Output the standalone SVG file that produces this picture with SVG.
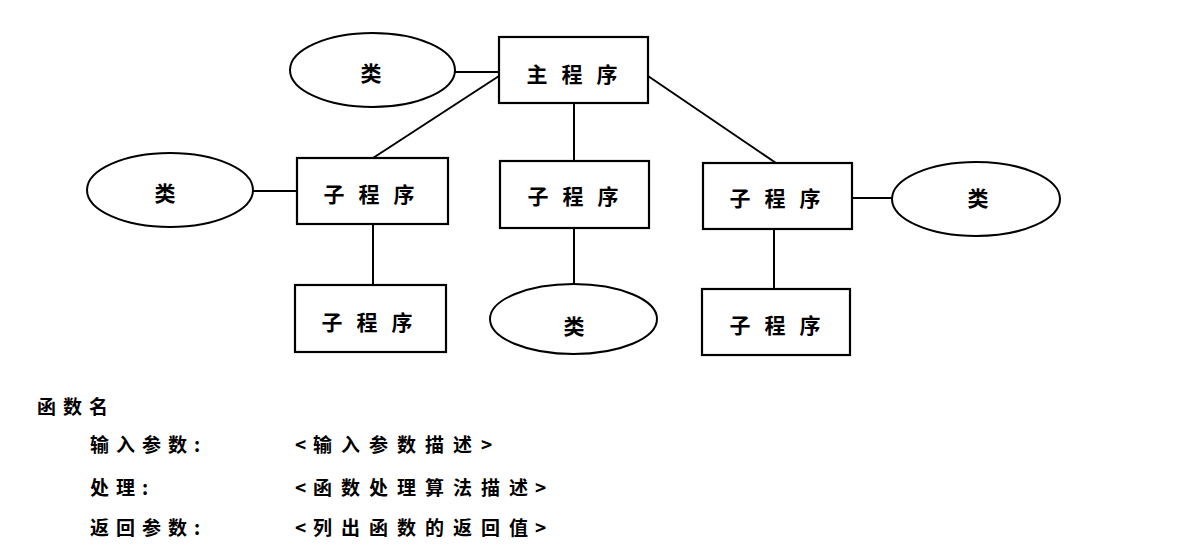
<svg xmlns="http://www.w3.org/2000/svg" width="1177" height="550" viewBox="0 0 1177 550">
<style>
.bx{fill:#fff;stroke:#000;stroke-width:2.2}
.el{fill:#fff;stroke:#000;stroke-width:2}
.ln{stroke:#000;stroke-width:2;fill:none}
.lb{font-family:"Noto Sans CJK SC","Noto Sans",sans-serif;font-weight:700;font-size:21px;fill:#000;text-anchor:middle;dominant-baseline:central}
.tx{font-family:"Noto Sans CJK SC","Noto Sans",sans-serif;font-weight:700;font-size:19px;fill:#000;dominant-baseline:central}
</style>
<rect width="1177" height="550" fill="#fff"/>
<g id="connectors">
<line class="ln" x1="455" y1="72" x2="499" y2="72"/>
<line class="ln" x1="499" y1="76" x2="373" y2="158"/>
<line class="ln" x1="574" y1="103" x2="574" y2="161"/>
<line class="ln" x1="648" y1="76" x2="776" y2="163"/>
<line class="ln" x1="253" y1="191" x2="297" y2="191"/>
<line class="ln" x1="373" y1="224" x2="373" y2="285"/>
<line class="ln" x1="574" y1="228" x2="574" y2="284"/>
<line class="ln" x1="852" y1="198" x2="892" y2="198"/>
<line class="ln" x1="774" y1="229" x2="774" y2="289"/>
</g>
<g id="main">
<rect class="bx" x="499" y="37" width="149" height="66"/>
<text class="lb" x="537 572 607" y="73">主程序</text>
</g>
<g id="class-main">
<ellipse class="el" cx="372.5" cy="70" rx="82.5" ry="37"/>
<text class="lb" x="371" y="72">类</text>
</g>
<g id="sub-left">
<rect class="bx" x="297" y="158" width="151" height="66"/>
<text class="lb" x="334 369 404" y="193">子程序</text>
</g>
<g id="class-left">
<ellipse class="el" cx="170" cy="190" rx="83" ry="37"/>
<text class="lb" x="165" y="192">类</text>
</g>
<g id="sub-center">
<rect class="bx" x="500" y="161" width="149" height="67"/>
<text class="lb" x="538 573 608" y="195">子程序</text>
</g>
<g id="class-center">
<ellipse class="el" cx="573.5" cy="319" rx="83.5" ry="35"/>
<text class="lb" x="574" y="325">类</text>
</g>
<g id="sub-right">
<rect class="bx" x="703" y="163" width="149" height="66"/>
<text class="lb" x="740 775 810" y="197">子程序</text>
</g>
<g id="class-right">
<ellipse class="el" cx="976" cy="199" rx="84" ry="37"/>
<text class="lb" x="978" y="197">类</text>
</g>
<g id="sub-left-child">
<rect class="bx" x="295" y="285" width="151" height="67"/>
<text class="lb" x="332 367 402" y="321">子程序</text>
</g>
<g id="sub-right-child">
<rect class="bx" x="702" y="289" width="148" height="66"/>
<text class="lb" x="740 775 810" y="324">子程序</text>
</g>
<g id="spec">
<text class="tx" x="37 63 89" y="405">函数名</text>
<text class="tx" x="90 116 142 168 194" y="443">输入参数:</text>
<text class="tx" x="295 313 341 369 397 425 453 481" y="443">&lt;输入参数描述&gt;</text>
<text class="tx" x="90 116 142" y="486">处理:</text>
<text class="tx" x="295 313 341 369 397 425 453 481 509 535" y="486">&lt;函数处理算法描述&gt;</text>
<text class="tx" x="90 116 142 168 194" y="526">返回参数:</text>
<text class="tx" x="295 313 341 369 397 425 453 481 509 535" y="526">&lt;列出函数的返回值&gt;</text>
</g>
</svg>
